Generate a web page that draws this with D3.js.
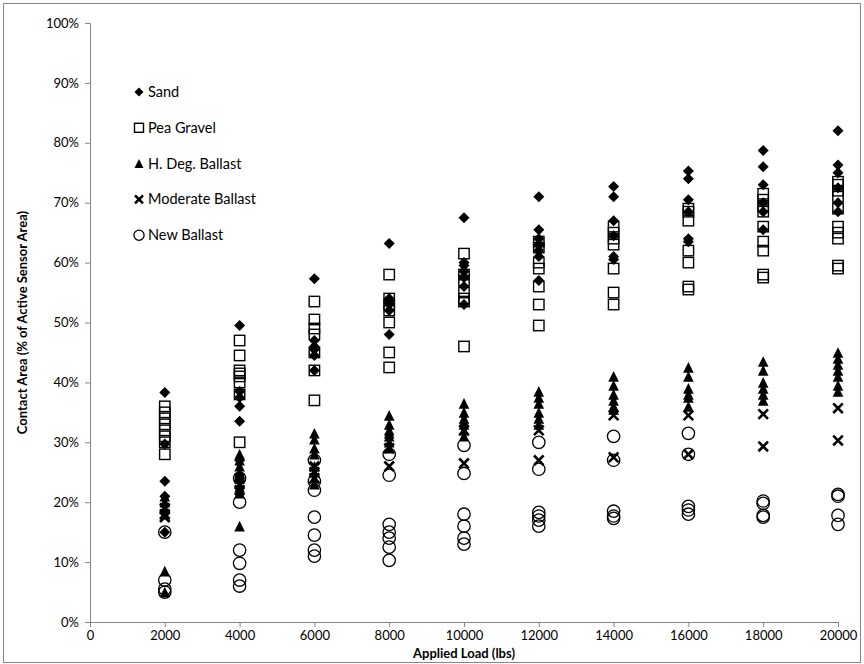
<!DOCTYPE html>
<html>
<head>
<meta charset="utf-8">
<script src="https://cdn.jsdelivr.net/npm/d3@7"></script>
<style>
  body { margin: 0; background: #fff; }
  text { font-family: Lato, "Open Sans", sans-serif; }
</style>
</head>
<body>
<div id="chart"></div>
<script>
//Datos
const loads = [2000, 4000, 6000, 8000, 10000, 12000, 14000, 16000, 18000, 20000];
const xTicks = [0, 2000, 4000, 6000, 8000, 10000, 12000, 14000, 16000, 18000, 20000];
const yTicks = [0, 10, 20, 30, 40, 50, 60, 70, 80, 90, 100];

//Una lista de valores (%) por cada carga
const sand = [
    [38.3, 29.7, 23.5, 21, 19.5, 15],
    [49.5, 38.5, 37.5, 36, 33.5, 27, 24],
    [57.3, 47, 46, 45.5, 44.5, 42],
    [63.2, 54, 53.5, 53, 52, 48],
    [67.5, 60, 59.5, 58.5, 57.5, 56, 53],
    [71, 65.5, 64, 63, 62, 61, 57],
    [72.7, 71, 67, 64.5, 61, 60.5],
    [75.3, 74, 70.5, 68.5, 64, 63.5],
    [78.7, 76, 73, 70, 68.5, 65.5],
    [82, 76.3, 75, 72.5, 70, 68.5]
];
const peaGravel = [
    [36, 35, 34, 33, 32, 31, 30, 28],
    [47, 44.5, 42, 41.5, 41, 40, 38, 30],
    [53.5, 50.5, 49, 48, 45, 42, 37],
    [58, 54, 53, 52, 50, 45, 42.5],
    [61.5, 58, 57, 55, 54, 53.5, 46],
    [63.5, 62.5, 60, 59, 56, 53, 49.5],
    [66, 65, 64, 63, 59, 55, 53],
    [69, 68.5, 67, 62, 60, 56, 55.5],
    [71.5, 70.5, 69.5, 68.5, 66, 63.5, 62, 58, 57.5],
    [73.5, 73, 72, 71, 69, 66, 65, 64, 59.5, 59]
];
const hDegBallast = [
    [21, 20, 19, 18, 8.5, 5],
    [28, 27, 26, 25, 24, 22.5, 21.5, 16],
    [31.5, 30.5, 29, 28, 26, 25, 24, 23],
    [34.5, 33, 32, 31.5, 31, 30, 29],
    [36.5, 35, 34, 33.5, 33, 32, 31],
    [38.5, 37.5, 36.5, 35, 34, 33],
    [41, 39.5, 38, 37, 36, 35.5],
    [42.5, 41, 39, 38, 37.5, 36],
    [43.5, 42, 40, 39, 38, 37],
    [45, 44, 43, 42, 41, 39.5, 38.5]
];
const moderateBallast = [
    [19, 18, 17.5],
    [24, 23, 22],
    [26, 25, 24],
    [26, 29],
    [26.5, 32],
    [27, 32],
    [34.5, 27.5],
    [34.5, 28],
    [34.7, 29.3],
    [35.7, 30.3]
];
const newBallast = [
    [15, 7, 5.5, 5],
    [24, 20, 12, 9.8, 7, 6],
    [27, 23.5, 22, 17.5, 14.5, 12, 11],
    [28, 24.5, 16.3, 15, 14, 12.5, 10.3],
    [29.5, 24.8, 18, 16, 14, 13],
    [30, 25.5, 18.3, 17.7, 17, 16],
    [31, 27, 18.5, 17.7, 17.3],
    [31.5, 28, 19.3, 18.7, 18],
    [20.2, 19.8, 17.8, 17.5],
    [21.3, 21, 17.8, 16.3]
];

const seriesNames = ['Sand', 'Pea Gravel', 'H. Deg. Ballast', 'Moderate Ballast', 'New Ballast'];
const seriesValues = [sand, peaGravel, hDegBallast, moderateBallast, newBallast];
const seriesSymbols = ['diamond', 'square', 'triangle', 'cross', 'circle'];

const W = 864, H = 664;
let margin = {top: 23, right: 26, bottom: 42, left: 90},
    width = W - margin.left - margin.right,
    height = H - margin.top - margin.bottom;

let svg = d3.select('#chart')
    .append('svg')
        .attr('width', W)
        .attr('height', H);

//Borde del gráfico
svg.append('rect')
    .attr('x', 3.5).attr('y', 3.5)
    .attr('width', W - 7).attr('height', H - 5)
    .attr('fill', '#fff')
    .attr('stroke', '#868686')
    .attr('stroke-width', 1);

let g = svg.append('g')
    .attr('transform', 'translate(' + margin.left + ',' + margin.top + ')');

let x = d3.scaleLinear().domain([0, 20000]).range([0, width]);
let y = d3.scaleLinear().domain([0, 100]).range([height, 0]);

//Ejes
let xAxis = function(gg) {
    gg.call(d3.axisBottom(x).tickValues(xTicks).tickSize(5).tickPadding(4).tickFormat(d3.format('d')));
    gg.selectAll('.domain, .tick line').attr('stroke', '#868686');
    gg.selectAll('.tick text').attr('font-size', 13).attr('fill', '#000');
};
g.append('g')
    .attr('transform', 'translate(0,' + height + ')')
    .call(xAxis);

let yAxis = function(gg) {
    gg.call(d3.axisLeft(y).tickValues(yTicks).tickSize(5).tickPadding(6).tickFormat(function(d) { return d + '%'; }));
    gg.selectAll('.domain, .tick line').attr('stroke', '#868686');
    gg.selectAll('.tick text').attr('font-size', 13).attr('fill', '#000');
};
g.append('g').call(yAxis);

//Títulos
svg.append('text')
    .attr('x', margin.left + width / 2)
    .attr('y', H - 6)
    .attr('text-anchor', 'middle')
    .attr('font-size', 13)
    .attr('font-weight', 'bold')
    .text('Applied Load (lbs)');

svg.append('text')
    .attr('transform', 'translate(27,' + (margin.top + height / 2) + ') rotate(-90)')
    .attr('text-anchor', 'middle')
    .attr('font-size', 13)
    .attr('font-weight', 'bold')
    .text('Contact Area (% of Active Sensor Area)');

//Marcadores
function drawMarker(sel, type, s) {
    if (type === 'diamond') {
        sel.append('path')
            .attr('d', 'M0,' + (-s) + 'L' + s + ',0L0,' + s + 'L' + (-s) + ',0Z')
            .attr('fill', '#000');
    } else if (type === 'square') {
        sel.append('rect')
            .attr('x', -s).attr('y', -s)
            .attr('width', 2 * s).attr('height', 2 * s)
            .attr('fill', 'none')
            .attr('stroke', '#000').attr('stroke-width', 1.4);
    } else if (type === 'triangle') {
        sel.append('path')
            .attr('d', 'M0,' + (-s) + 'L' + s + ',' + s + 'L' + (-s) + ',' + s + 'Z')
            .attr('fill', '#000');
    } else if (type === 'cross') {
        sel.append('path')
            .attr('d', 'M' + (-s) + ',' + (-s) + 'L' + s + ',' + s + 'M' + s + ',' + (-s) + 'L' + (-s) + ',' + s)
            .attr('stroke', '#000').attr('stroke-width', 2.6);
    } else {
        sel.append('circle')
            .attr('r', s + 0.6)
            .attr('fill', 'none')
            .attr('stroke', '#000').attr('stroke-width', 1.3);
    }
}

const markerSize = [5.5, 5.2, 5.3, 4.8, 5.6];

seriesValues.forEach(function(series, si) {
    let pts = [];
    series.forEach(function(vals, li) {
        vals.forEach(function(v) { pts.push({load: loads[li], value: v}); });
    });
    g.selectAll('.pt' + si)
        .data(pts)
        .enter()
        .append('g')
        .attr('class', 'pt' + si)
        .attr('transform', function(d) { return 'translate(' + x(d.load) + ',' + y(d.value) + ')'; })
        .each(function() { drawMarker(d3.select(this), seriesSymbols[si], markerSize[si]); });
});

//Leyenda
let legend = svg.append('g').attr('transform', 'translate(139,92)');
seriesNames.forEach(function(name, i) {
    let item = legend.append('g').attr('transform', 'translate(0,' + (i * 35.8) + ')');
    drawMarker(item, seriesSymbols[i], seriesSymbols[i] === 'cross' ? 4 : 4.5);
    item.append('text')
        .attr('x', 9)
        .attr('y', 5)
        .attr('font-size', 14.5)
        .text(name);
});
</script>
</body>
</html>
